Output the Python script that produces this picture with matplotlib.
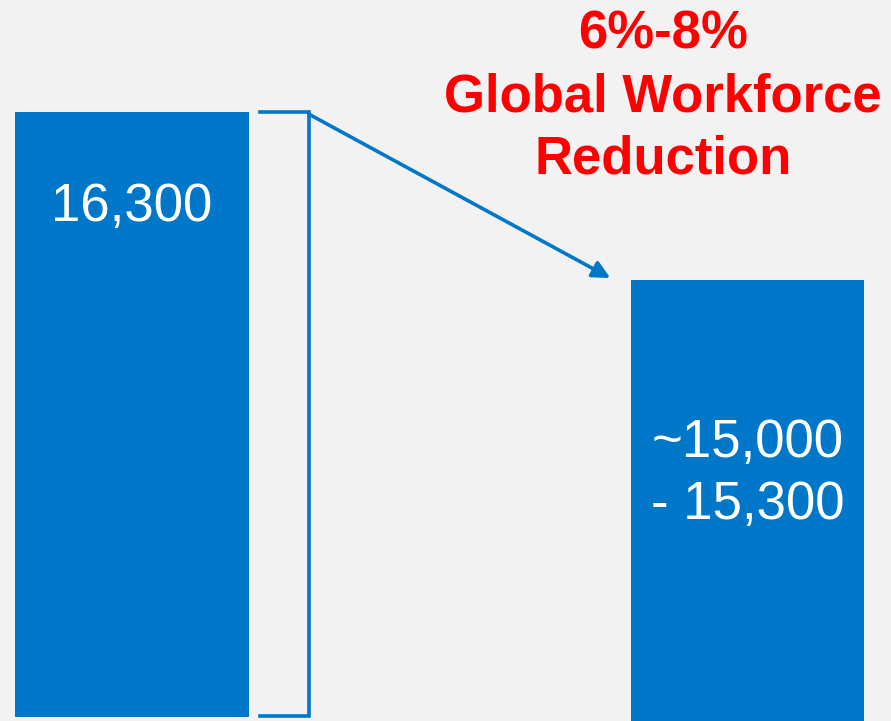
import matplotlib.pyplot as plt

# values
categories = ['Current', 'After reduction']
headcount = [16300, 15150]          # right bar = midpoint of ~15,000 - 15,300
bar_labels = ['16,300', '~15,000\n- 15,300']
title_text = '6%-8%\nGlobal Workforce\nReduction'

blue = '#0077C8'
red = '#FF0000'
bg = '#F2F2F2'

plt.rcParams['font.family'] = ['Liberation Sans', 'DejaVu Sans']

fig = plt.figure(figsize=(8.91, 7.21), dpi=100)
fig.patch.set_facecolor(bg)
ax = fig.add_axes([0, 0, 1, 1])
ax.set_facecolor(bg)

x = [0, 1]
base = [12160, 12050]
bars = ax.bar(x, [h - b for h, b in zip(headcount, base)], bottom=base,
              width=0.38, color=blue)

ax.set_xlim(-0.2145, 1.2331)
ax.set_ylim(12131, 17067)
ax.axis('off')

# bar labels
ax.text(0, 16300 - 95 * 6.845, bar_labels[0], color='white', fontsize=38,
        ha='center', va='center')
ax.text(1.0, 16300 - 362 * 6.845, bar_labels[1], color='white', fontsize=38,
        ha='center', va='center', linespacing=1.3)

# bracket next to the first bar
bx0, bx1 = 0.208, 0.287
ytop, ybot = headcount[0], 16300 - 604 * 6.845
ax.plot([bx0, bx1, bx1, bx0], [ytop, ytop, ybot, ybot], color=blue, lw=2.6,
        solid_joinstyle='miter')

# arrow towards the reduced bar
ax.annotate('', xy=(0.777, 16300 - 166 * 6.845), xytext=(bx1, ytop - 2 * 6.845),
            arrowprops=dict(arrowstyle='-|>', color=blue, lw=2.6,
                            mutation_scale=26, shrinkA=0, shrinkB=0))

# headline
ax.text(0.744, 1 - 97 / 721, title_text, transform=ax.transAxes, color=red,
        fontsize=38, fontweight='bold', ha='center', va='center', linespacing=1.32)

plt.savefig('out.png', dpi=100, facecolor=bg)
